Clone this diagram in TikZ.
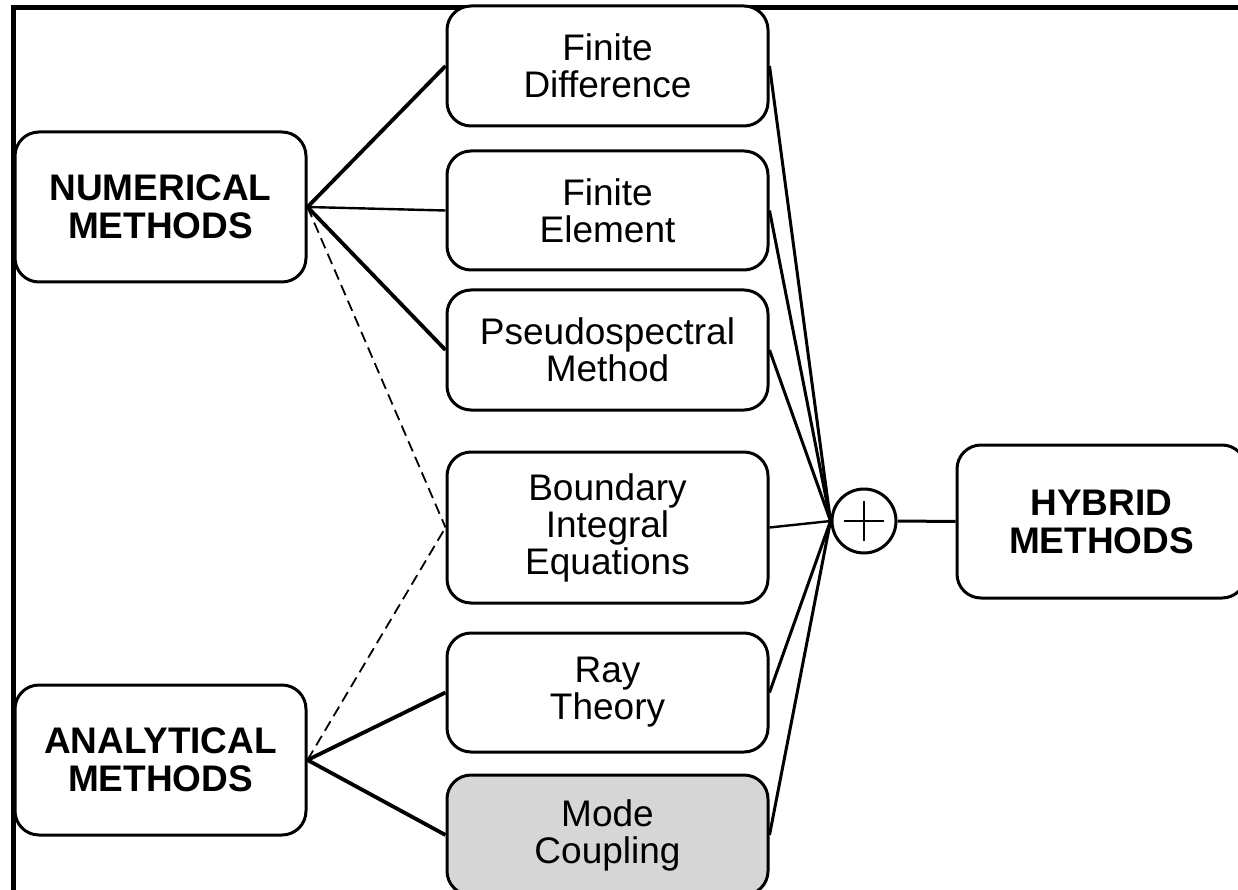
\documentclass[tikz,border=0pt]{standalone}
\usepackage{fontspec}
\setmainfont{Liberation Sans}
\usepackage{tikz}
\usetikzlibrary{shapes.geometric, calc}
\usepackage{xcolor}
\tikzstyle{family} = [rectangle, rounded corners=24pt, minimum width=291pt, minimum height=150pt,
    align=center, draw=black, line width=3pt, fill=white, font=\fontsize{37}{38}\selectfont\bfseries]
\tikzstyle{method} = [rectangle, rounded corners=24pt, minimum width=321pt, minimum height=120pt,
    align=center, draw=black, line width=3pt, fill=white, font=\fontsize{37}{37}\selectfont]
\tikzstyle{sum} = [circle, minimum size=64pt, draw=black, line width=3pt, fill=white, inner sep=0pt]
\tikzstyle{link} = [line width=3pt]
\tikzstyle{thicklink} = [line width=3.8pt]
\tikzstyle{thinlink} = [line width=2.4pt]
\tikzstyle{hint} = [line width=1.8pt, dash pattern=on 11pt off 6pt]

\begin{document}
\begin{tikzpicture}[x=1pt, y=-1pt]
\useasboundingbox (0,0) rectangle (1238,890);
\clip (0,0) rectangle (1238,890);

% frame
\draw[line width=4.5pt] (13.5,7.5) rectangle (1300,950);

\node (fd) [method] at (607.5,66) {Finite\\Difference};
\node (fe) [method, minimum height=119pt] at (607.5,210.5) {Finite\\Element};
\node (ps) [method] at (607.5,350) {Pseudospectral\\Method};
\node (bie) [method, minimum height=151pt] at (607.5,527.5) {Boundary\\Integral\\Equations};
\node (ray) [method, minimum height=119pt] at (607.5,692.5) {Ray\\Theory};
\node (mc) [method, fill=black!16] at (607.5,835) {Mode\\Coupling};

\node (num) [family] at (160.5,207) {NUMERICAL\\METHODS};
\node (ana) [family] at (160.5,760) {ANALYTICAL\\METHODS};
\node (sum) [sum] at (864,521) {};
\node (hyb) [family, minimum width=289pt, minimum height=153pt] at (1101.5,521.5) {HYBRID\\METHODS};

% numerical / analytical to methods
\draw[thicklink] (num.east) -- (fd.west);
\draw[thinlink] (num.east) -- (fe.west);
\draw[thicklink] (num.east) -- (ps.west);
\draw[hint] (num.east) -- (bie.west);
\draw[hint] (ana.east) -- (bie.west);
\draw[thicklink] (ana.east) -- (ray.west);
\draw[thicklink] (ana.east) -- (mc.west);

% methods to the sum
\foreach \m in {fd, fe, ps, ray, mc}
    \draw[link] (\m.east) -- (sum.west);
\draw[thinlink] (bie.east) -- (sum.west);
\draw[thinlink] ([xshift=-20pt]sum.center) -- ([xshift=20pt]sum.center);
\draw[thinlink] ([yshift=-20pt]sum.center) -- ([yshift=20pt]sum.center);
\draw[link] (sum.east) -- (hyb.west);
\end{tikzpicture}
\end{document}
